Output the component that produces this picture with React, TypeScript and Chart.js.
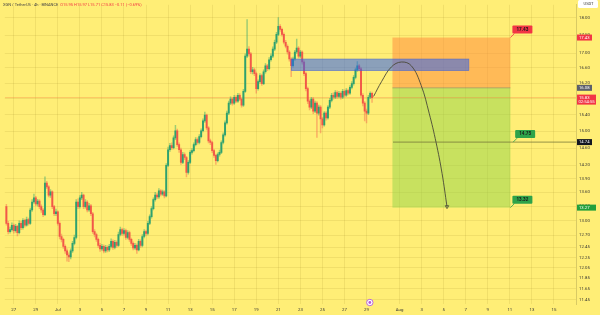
import React, { useEffect, useRef } from "react";
import { Chart, registerables } from "chart.js";

Chart.register(...registerables);

// ---- candle data (4h candles, XGN/USDT) ----
const firstOpen = 13.29;
const firstCandleDay = -4 / 6; // days after Jun 27 00:00
const candleStep = 1 / 6;

const closes = [
  12.94, 12.77, 12.81, 12.9, 12.79, 12.88, 12.75, 12.94, 12.85, 13.0,
  12.9, 13.02, 12.94, 13.22, 13.39, 13.48, 13.35, 13.41, 13.29, 13.22,
  13.12, 13.8, 13.72, 13.54, 13.61, 13.29, 13.14, 13.18, 12.94, 12.67,
  12.61, 12.47, 12.38, 12.3, 12.26, 12.38, 12.53, 12.65, 13.39, 13.29,
  13.48, 13.54, 13.29, 13.39, 13.22, 13.31, 13.14, 12.77, 12.71, 12.61,
  12.49, 12.42, 12.47, 12.38, 12.45, 12.4, 12.47, 12.57, 12.45, 12.55,
  12.49, 12.71, 12.81, 12.73, 12.79, 12.65, 12.75, 12.61, 12.53, 12.44,
  12.49, 12.4, 12.57, 12.49, 12.67, 12.77, 12.73, 12.94, 13.08, 13.25,
  13.44, 13.54, 13.5, 13.63, 13.56, 13.61, 13.52, 14.2, 14.56, 14.66,
  14.61, 14.84, 15.01, 14.68, 14.56, 14.27, 14.45, 14.38, 14.04, 14.27,
  14.5, 14.54, 14.68, 14.8, 14.73, 14.87, 15.01, 15.25, 15.39, 15.08,
  14.77, 14.73, 14.54, 14.43, 14.31, 14.45, 14.5, 14.73, 14.91, 15.2,
  15.44, 15.69, 15.79, 15.69, 15.84, 15.74, 15.89, 15.79, 15.64, 15.99,
  16.92, 17.11, 16.98, 16.5, 16.55, 16.45, 16.06, 16.24, 16.4, 16.19,
  16.5, 16.66, 16.58, 16.82, 16.92, 17.11, 17.3, 17.52, 17.75, 17.66,
  17.52, 17.3, 17.19, 17.03, 16.84, 16.66, 16.84, 17.03, 17.14, 16.92,
  17.03, 16.76, 16.45, 16.06, 15.74, 15.59, 15.79, 15.49, 15.69, 15.44,
  15.59, 15.3, 15.15, 15.44, 15.32, 15.59, 15.76, 15.89, 15.84, 15.96,
  15.86, 15.94, 15.84, 15.99, 15.89, 16.01, 15.94, 16.09, 16.19, 16.35,
  16.55, 16.66, 16.58, 15.89, 15.69, 15.49, 15.44, 15.84, 15.94, 15.83,
];

const highs = [
  13.34, 12.98, 12.86, 12.95, 12.93, 12.92, 12.9, 12.99, 12.98, 13.04,
  13.03, 13.07, 13.05, 13.26, 13.44, 13.56, 13.51, 13.45, 13.44, 13.33,
  13.25, 13.94, 13.84, 13.75, 13.66, 13.63, 13.32, 13.24, 13.2, 12.97,
  12.72, 12.64, 12.5, 12.42, 12.34, 12.42, 12.57, 12.7, 13.44, 13.46,
  13.53, 13.6, 13.56, 13.44, 13.42, 13.36, 13.34, 13.17, 12.81, 12.74,
  12.64, 12.53, 12.51, 12.5, 12.49, 12.48, 12.51, 12.62, 12.6, 12.59,
  12.58, 12.76, 12.86, 12.84, 12.83, 12.82, 12.79, 12.78, 12.64, 12.56,
  12.53, 12.52, 12.61, 12.6, 12.71, 12.81, 12.8, 12.98, 13.12, 13.29,
  13.48, 13.6, 13.58, 13.68, 13.66, 13.65, 13.64, 14.24, 14.62, 14.71,
  14.72, 14.89, 15.14, 15.05, 14.72, 14.6, 14.5, 14.49, 14.41, 14.31,
  14.54, 14.59, 14.72, 14.85, 14.84, 14.92, 15.06, 15.3, 15.47, 15.42,
  15.11, 14.81, 14.76, 14.57, 14.46, 14.49, 14.55, 14.77, 14.96, 15.25,
  15.49, 15.74, 15.85, 15.83, 15.89, 15.88, 15.94, 15.93, 15.82, 16.04,
  16.98, 17.94, 17.18, 17.02, 16.62, 16.6, 16.49, 16.29, 16.45, 16.44,
  16.55, 16.72, 16.7, 16.88, 16.98, 17.17, 17.36, 17.58, 18.0, 17.8,
  17.7, 17.56, 17.35, 17.23, 17.07, 16.88, 16.89, 17.08, 17.39, 17.18,
  17.08, 17.06, 16.8, 16.49, 16.1, 15.78, 15.84, 15.83, 15.74, 15.73,
  15.64, 15.63, 15.34, 15.48, 15.48, 15.63, 15.81, 15.94, 15.95, 16.01,
  16.0, 15.99, 15.98, 16.04, 16.03, 16.06, 16.05, 16.14, 16.24, 16.4,
  16.6, 16.77, 16.7, 16.62, 15.93, 15.73, 15.54, 15.89, 15.98, 15.97,
];

const lows = [
  12.9, 12.72, 12.74, 12.78, 12.74, 12.76, 12.68, 12.72, 12.81, 12.82,
  12.86, 12.88, 12.9, 12.92, 13.19, 13.36, 13.31, 13.3, 13.25, 13.17,
  13.08, 13.1, 13.68, 13.5, 13.49, 13.25, 13.1, 13.1, 12.9, 12.62,
  12.56, 12.43, 12.33, 12.18, 12.17, 12.22, 12.35, 12.5, 12.62, 13.25,
  13.26, 13.44, 13.25, 13.26, 13.18, 13.19, 13.1, 12.73, 12.66, 12.57,
  12.45, 12.37, 12.39, 12.34, 12.35, 12.36, 12.37, 12.44, 12.41, 12.42,
  12.45, 12.47, 12.68, 12.69, 12.7, 12.61, 12.62, 12.57, 12.49, 12.4,
  12.41, 12.33, 12.38, 12.45, 12.46, 12.64, 12.69, 12.7, 12.91, 13.05,
  13.22, 13.41, 13.46, 13.47, 13.52, 13.53, 13.48, 13.5, 14.17, 14.52,
  14.57, 14.58, 14.8, 14.64, 14.5, 14.22, 14.24, 14.33, 13.94, 14.0,
  14.24, 14.46, 14.51, 14.65, 14.69, 14.7, 14.84, 14.98, 15.21, 15.03,
  14.72, 14.68, 14.49, 14.38, 14.22, 14.28, 14.41, 14.47, 14.7, 14.88,
  15.17, 15.4, 15.65, 15.64, 15.66, 15.7, 15.71, 15.75, 15.59, 15.61,
  15.96, 16.88, 16.92, 16.45, 16.44, 16.4, 15.94, 16.02, 16.2, 16.14,
  16.16, 16.46, 16.53, 16.55, 16.78, 16.88, 17.07, 17.26, 17.48, 17.6,
  17.47, 17.25, 17.14, 16.97, 16.78, 16.37, 16.62, 16.8, 16.99, 16.87,
  16.88, 16.7, 16.4, 16.0, 15.68, 15.52, 15.55, 15.43, 15.45, 14.85,
  15.39, 14.96, 15.08, 15.12, 15.27, 15.29, 15.55, 15.72, 15.79, 15.8,
  15.81, 15.82, 15.79, 15.8, 15.85, 15.86, 15.9, 15.91, 16.05, 16.15,
  16.31, 16.51, 16.52, 15.84, 15.62, 15.25, 15.2, 15.4, 15.8, 15.71,
];

// ---- axes ----
const xTickDays = [0, 2, 4, 6, 8, 10, 12, 14, 16, 18, 20, 22, 24, 26, 28, 30, 32, 35, 37, 39, 41, 43, 45, 47, 49];
const xTickLabels = ["27", "29", "Jul", "3", "5", "7", "9", "11", "13", "15", "17", "19", "21", "23", "25", "27", "29", "Aug", "3", "5", "7", "9", "11", "13", "15"];
const yTickValues = [18.0, 17.5, 17.0, 16.6, 16.2, 15.8, 15.4, 15.0, 14.6, 14.2, 13.9, 13.6, 13.3, 13.0, 12.7, 12.45, 12.25, 12.05, 11.85, 11.65, 11.45];
const xMin = -0.81;
const xMax = 51.0;
const yMin = 11.37;
const yMax = 18.37;

// ---- drawings ----
const projectionDays = [32.64, 33.36, 34.26, 35.16, 36.06, 36.96, 37.68, 38.31, 38.85, 39.3];
const projectionPrices = [15.86, 16.24, 16.63, 16.76, 16.66, 16.14, 15.44, 14.73, 14.02, 13.29];

const zoneStartDay = 34.35;
const zoneEndDay = 45.05;
const stopPrice = 17.43;
const entryPrice = 16.08;
const targetPrice = 13.27;

const boxStartDay = 25.18;
const boxEndDay = 41.28;
const boxTopPrice = 16.84;
const boxBottomPrice = 16.53;

const supportPrice = 14.74;
const supportStartDay = 34.4;
const lastPrice = 15.83;

const calloutTexts = ["17.43", "14.75", "13.32"];
const calloutDays = [45.05, 45.3, 45.05];
const calloutPrices = [17.43, 14.74, 13.27];

const axisLabelPrices = [17.43, 16.08, 15.83, 14.74, 13.27];
const axisLabelTexts = ["17.43", "16.08", "15.83", "14.74", "13.27"];
const countdownText = "02:54:55";

const eventDay = 32.3;

const headerSymbol = "XGN / TetherUS · 4h · BINANCE";
const headerValues = "O15.95 H15.97 L15.71 C15.83 −0.11 (−0.69%)";

const BG = "rgb(255,238,118)";
const FONT = "Roboto, 'Liberation Sans', sans-serif";

function rr(ctx: CanvasRenderingContext2D, x: number, y: number, w: number, h: number, r: number) {
  ctx.beginPath();
  if ((ctx as any).roundRect) (ctx as any).roundRect(x, y, w, h, r);
  else ctx.rect(x, y, w, h);
}

const overlay = {
  id: "overlay",
  beforeDraw(chart: any) {
    const { ctx, width, height } = chart;
    ctx.save();
    ctx.fillStyle = BG;
    ctx.fillRect(0, 0, width, height);
    ctx.restore();
  },
  beforeDatasetsDraw(chart: any) {
    const { ctx } = chart;
    const x = chart.scales.x;
    const y = chart.scales.y;
    const x0 = x.getPixelForValue(zoneStartDay);
    const x1 = x.getPixelForValue(zoneEndDay);
    const yS = y.getPixelForValue(stopPrice);
    const yE = y.getPixelForValue(entryPrice);
    const yT = y.getPixelForValue(targetPrice);
    ctx.save();
    ctx.fillStyle = "rgba(255,140,60,0.53)";
    ctx.fillRect(x0, yS, x1 - x0, yE - yS);
    ctx.fillStyle = "rgba(145,212,72,0.5)";
    ctx.fillRect(x0, yE, x1 - x0, yT - yE);
    ctx.strokeStyle = "rgba(120,120,110,0.6)";
    ctx.lineWidth = 0.8;
    ctx.beginPath();
    ctx.moveTo(x0, yE);
    ctx.lineTo(x1, yE);
    ctx.stroke();
    ctx.restore();
  },
  afterDatasetDraw(chart: any, args: any) {
    if (args.index !== 1) return;
    const { ctx } = chart;
    const x = chart.scales.x;
    const y = chart.scales.y;
    const bx0 = x.getPixelForValue(boxStartDay);
    const bx1 = x.getPixelForValue(boxEndDay);
    const by0 = y.getPixelForValue(boxTopPrice);
    const by1 = y.getPixelForValue(boxBottomPrice);
    ctx.save();
    ctx.fillStyle = "rgba(44,96,242,0.55)";
    ctx.fillRect(bx0, by0, bx1 - bx0, by1 - by0);
    ctx.strokeStyle = "rgba(70,100,210,0.7)";
    ctx.lineWidth = 0.7;
    ctx.strokeRect(bx0, by0, bx1 - bx0, by1 - by0);
    ctx.restore();
  },
  afterDraw(chart: any) {
    const { ctx, chartArea, width } = chart;
    const x = chart.scales.x;
    const y = chart.scales.y;
    ctx.save();

    // price-axis tick labels
    ctx.font = `4.3px ${FONT}`;
    ctx.fillStyle = "#333";
    ctx.textAlign = "left";
    ctx.textBaseline = "middle";
    yTickValues.forEach((v) => {
      ctx.fillText(v.toFixed(2), chartArea.right + 3, y.getPixelForValue(v));
    });

    // callouts
    const calloutColors = ["#f23645", "#2ea34a", "#2ea34a"];
    calloutTexts.forEach((t, i) => {
      const px = x.getPixelForValue(calloutDays[i]);
      const py = y.getPixelForValue(calloutPrices[i]);
      ctx.strokeStyle = calloutColors[i];
      ctx.lineWidth = 0.8;
      ctx.beginPath();
      ctx.moveTo(px, py);
      ctx.lineTo(px + 4, py - 4);
      ctx.stroke();
      ctx.fillStyle = calloutColors[i];
      rr(ctx, px + 2, py - 12, 20, 8, 1);
      ctx.fill();
      ctx.fillStyle = "#1a1a1a";
      ctx.font = `bold 4.6px ${FONT}`;
      ctx.textAlign = "center";
      ctx.textBaseline = "middle";
      ctx.fillText(t, px + 12, py - 7.8);
    });

    // price-axis labels
    const axisColors = ["#f23645", "#5d606b", "#f23645", "#131722", "#22a03c"];
    const ax = chartArea.right + 1;
    axisLabelTexts.forEach((t, i) => {
      const py = y.getPixelForValue(axisLabelPrices[i]);
      ctx.fillStyle = axisColors[i];
      ctx.font = `4.2px ${FONT}`;
      ctx.textAlign = "left";
      ctx.textBaseline = "middle";
      if (i === 2) {
        ctx.fillRect(ax, py - 3, 19, 10);
        ctx.fillStyle = "#ffffff";
        ctx.fillText(t, ax + 2, py);
        ctx.fillText(countdownText, ax + 1.5, py + 4.5);
      } else {
        ctx.fillRect(ax, py - 3, i === 4 ? 19 : 15, 6);
        ctx.fillStyle = "#ffffff";
        ctx.fillText(t, ax + 2, py + 0.2);
      }
    });

    // currency box
    ctx.fillStyle = "#ffffff";
    rr(ctx, ax + 1, 0, width - ax - 3, 8, 1.5);
    ctx.fill();
    ctx.fillStyle = "#333";
    ctx.font = `4px ${FONT}`;
    ctx.textAlign = "center";
    ctx.textBaseline = "middle";
    ctx.fillText("USDT", (ax + width) / 2, 4.3);

    // header
    ctx.textAlign = "left";
    ctx.textBaseline = "middle";
    ctx.font = `4px ${FONT}`;
    ctx.fillStyle = "#444";
    ctx.fillText(headerSymbol, 3, 5);
    const w = ctx.measureText(headerSymbol).width;
    ctx.fillStyle = "#f23645";
    ctx.fillText(headerValues, 3 + w + 2, 5);

    // event marker
    const ex = x.getPixelForValue(eventDay);
    const ey = chartArea.bottom - 1.5;
    ctx.beginPath();
    ctx.arc(ex, ey, 3.2, 0, Math.PI * 2);
    ctx.fillStyle = "#ffffff";
    ctx.fill();
    ctx.strokeStyle = "#b45ad8";
    ctx.lineWidth = 0.9;
    ctx.stroke();
    ctx.beginPath();
    ctx.arc(ex, ey, 1.4, 0, Math.PI * 2);
    ctx.fillStyle = "#b45ad8";
    ctx.fill();

    ctx.restore();
  },
};

export default function App() {
  const ref = useRef<HTMLCanvasElement>(null);
  useEffect(() => {
    document.body.style.margin = "0";
    const canvas = ref.current;
    if (!canvas) return;
    const opens = closes.map((c, i) => (i === 0 ? firstOpen : closes[i - 1]));
    const days = closes.map((_, i) => firstCandleDay + i * candleStep);
    const up = closes.map((c, i) => c >= opens[i]);
    const gridColor = "rgba(150,125,30,0.13)";

    const chart = new Chart(canvas, {
      type: "bar",
      data: {
        datasets: [
          {
            type: "bar",
            label: "wick",
            data: days.map((d, i) => ({ x: d, y: [lows[i], highs[i]] })) as any,
            backgroundColor: up.map((u) => (u ? "rgba(60,170,110,0.5)" : "rgba(245,110,80,0.5)")),
            barThickness: 0.8,
            grouped: false,
            order: 4,
          } as any,
          {
            type: "bar",
            label: "body",
            data: days.map((d, i) => ({ x: d, y: [opens[i], closes[i]] })) as any,
            backgroundColor: up.map((u) => (u ? "rgba(30,155,110,0.88)" : "rgba(240,75,68,0.88)")),
            barThickness: 1.3,
            minBarLength: 0.6,
            grouped: false,
            order: 3,
          } as any,
          {
            type: "line",
            label: "last",
            data: [
              { x: xMin, y: lastPrice },
              { x: xMax, y: lastPrice },
            ],
            borderColor: "rgba(245,120,60,0.35)",
            borderWidth: 1,
            pointRadius: 0,
            order: 5,
          } as any,
          {
            type: "line",
            label: "support",
            data: [
              { x: supportStartDay, y: supportPrice },
              { x: xMax, y: supportPrice },
            ],
            borderColor: "rgba(115,115,55,0.6)",
            borderWidth: 1.4,
            pointRadius: 0,
            order: 2,
          } as any,
          {
            type: "line",
            label: "projection",
            data: projectionDays.map((d, i) => ({ x: d, y: projectionPrices[i] })),
            borderColor: "#4a4838",
            borderWidth: 0.9,
            tension: 0.4,
            pointRadius: projectionDays.map((_, i) => (i === projectionDays.length - 1 ? 2 : 0)),
            pointStyle: "triangle",
            rotation: 180,
            pointBackgroundColor: "rgba(0,0,0,0)",
            pointBorderColor: "#4a4838",
            pointBorderWidth: 0.8,
            order: 1,
          } as any,
        ],
      },
      options: {
        responsive: false,
        animation: false,
        devicePixelRatio: 1,
        layout: { padding: 0 },
        plugins: { legend: { display: false }, tooltip: { enabled: false } },
        scales: {
          x: {
            type: "linear",
            min: xMin,
            max: xMax,
            offset: false,
            grid: { color: gridColor, offset: false, drawTicks: false },
            border: { display: false },
            ticks: {
              autoSkip: false,
              maxRotation: 0,
              padding: 3,
              color: "#333",
              font: { size: 4.3, family: FONT },
              callback: (v: any) => {
                const k = xTickDays.indexOf(Number(v));
                return k >= 0 ? xTickLabels[k] : "";
              },
            },
            afterBuildTicks: (s: any) => {
              s.ticks = xTickDays.map((v) => ({ value: v }));
            },
            afterFit: (s: any) => {
              s.height = 11;
              s.paddingLeft = 0;
              s.paddingRight = 0;
            },
          },
          y: {
            type: "logarithmic",
            position: "right",
            min: yMin,
            max: yMax,
            grid: { color: gridColor, drawTicks: false },
            border: { display: true, color: "rgba(0,0,0,0.15)" },
            ticks: { display: false, autoSkip: false },
            afterBuildTicks: (s: any) => {
              s.ticks = yTickValues.map((v) => ({ value: v }));
            },
            afterFit: (s: any) => {
              s.width = 24;
            },
          },
        },
      } as any,
      plugins: [overlay as any],
    });
    return () => chart.destroy();
  }, []);
  return (
    <div style={{ width: 600, height: 315 }}>
      <canvas ref={ref} width={600} height={315} style={{ display: "block" }} />
    </div>
  );
}
